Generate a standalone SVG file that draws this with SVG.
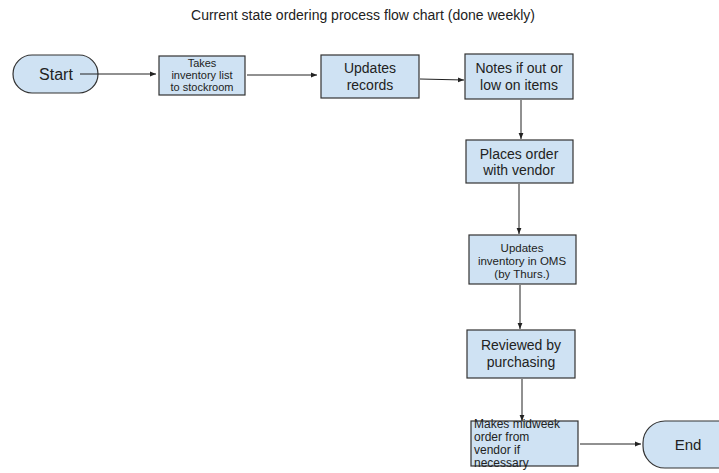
<svg xmlns="http://www.w3.org/2000/svg" width="719" height="473" viewBox="0 0 719 473">
<defs>
<marker id="ah" viewBox="0 0 10 10" refX="10" refY="5" markerWidth="6" markerHeight="6" orient="auto"><path d="M0,1 L10,5 L0,9 z" fill="#222"/></marker>
<style>
.box{fill:#cfe2f3;stroke:#333;stroke-width:1.2}
.t{font-family:"Liberation Sans",Arial,sans-serif;fill:#222;text-anchor:middle}
.c{stroke:#222;stroke-width:1;fill:none}
</style>
</defs>
<rect width="719" height="473" fill="#fff"/>
<text class="t" x="363" y="20" font-size="14">Current state ordering process flow chart (done weekly)</text>
<g id="start"><rect class="box" x="13" y="55" width="85" height="38" rx="19"/><text class="t" x="56" y="80" font-size="16">Start</text></g>
<g id="takes"><rect class="box" x="159" y="56" width="86" height="39"/><text class="t" font-size="11"><tspan x="202" y="67">Takes</tspan><tspan x="202" y="79">inventory list</tspan><tspan x="202" y="91">to stockroom</tspan></text></g>
<g id="updates-records"><rect class="box" x="321" y="55" width="98" height="43"/><text class="t" font-size="14"><tspan x="370" y="73">Updates</tspan><tspan x="370" y="90">records</tspan></text></g>
<g id="notes"><rect class="box" x="465" y="54" width="108" height="45"/><text class="t" font-size="14"><tspan x="519" y="73">Notes if out or</tspan><tspan x="519" y="90">low on items</tspan></text></g>
<g id="places"><rect class="box" x="466" y="140" width="107" height="43"/><text class="t" font-size="14"><tspan x="519" y="159">Places order</tspan><tspan x="519" y="175">with vendor</tspan></text></g>
<g id="updates-inventory"><rect class="box" x="469" y="235" width="107" height="49"/><text class="t" font-size="11.5"><tspan x="522" y="252">Updates</tspan><tspan x="522" y="265">inventory in OMS</tspan><tspan x="522" y="278">(by Thurs.)</tspan></text></g>
<g id="reviewed"><rect class="box" x="467" y="330" width="108" height="48"/><text class="t" font-size="14"><tspan x="521" y="350">Reviewed by</tspan><tspan x="521" y="367">purchasing</tspan></text></g>
<g id="makes"><rect class="box" x="471" y="421" width="107" height="45"/><text class="t" font-size="12" style="text-anchor:start"><tspan x="474" y="428">Makes midweek</tspan><tspan x="474" y="441">order from</tspan><tspan x="474" y="454">vendor if</tspan><tspan x="474" y="467">necessary</tspan></text></g>
<g id="end"><rect class="box" x="643" y="421" width="100" height="47" rx="22"/><text class="t" x="688" y="450" font-size="15">End</text></g>
<g id="connectors">
<line class="c" x1="80" y1="74" x2="156" y2="74" marker-end="url(#ah)"/>
<line class="c" x1="247" y1="75" x2="317" y2="75" marker-end="url(#ah)"/>
<line class="c" x1="420" y1="79" x2="464" y2="80" marker-end="url(#ah)"/>
<line class="c" x1="521" y1="100" x2="521" y2="139" marker-end="url(#ah)"/>
<line class="c" x1="519" y1="184" x2="519" y2="234" marker-end="url(#ah)"/>
<line class="c" x1="520" y1="285" x2="520" y2="329" marker-end="url(#ah)"/>
<line class="c" x1="522" y1="379" x2="522" y2="421" marker-end="url(#ah)"/>
<line class="c" x1="580" y1="444" x2="641" y2="444" marker-end="url(#ah)"/>
</g>
</svg>
